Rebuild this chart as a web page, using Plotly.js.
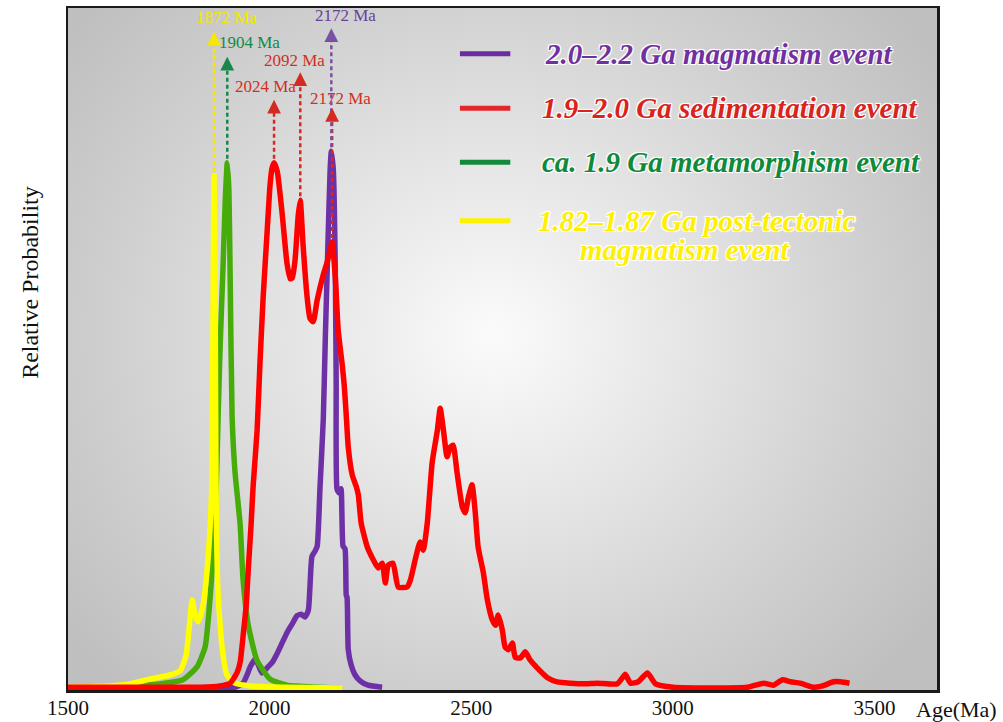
<!DOCTYPE html>
<html><head><meta charset="utf-8">
<script src="https://cdn.plot.ly/plotly-3.0.1.min.js"></script>
<style>
html,body{margin:0;padding:0;background:#fff;}
#wrap{position:relative;width:1003px;height:722px;overflow:hidden;}
#bg{position:absolute;left:68px;top:8px;width:869px;height:682px;
background:radial-gradient(ellipse 62% 72% at 49% 48%, #fbfbfb 0%, #e6e6e6 35%, #d0d0d0 70%, #bfbfbf 100%);}
#chart{position:absolute;left:0;top:0;width:1003px;height:722px;}
</style></head><body>
<div id="wrap"><div id="bg"></div><div id="chart"></div></div>
<script>
// ---------- data (age in Ma, relative probability) ----------
const seriesNames = ['2.0–2.2 Ga magmatism event','1.9–2.0 Ga sedimentation event','ca. 1.9 Ga metamorphism event','1.82–1.87 Ga post-tectonic magmatism event'];

const purpleAge = [1828,1877,1914,1934,1944,1952,1964,1971,1981,1996,2006,2019,2031,2043,2056,2068,2078,2088,2096,2100,2105,2113,2118,2125,2133,2138,2145,2150,2153,2158,2163,2165,2167,2172,2177,2182,2187,2190,2192,2195,2202,2212,2225,2244,2279];
const purpleProb = [0.003,0.003,0.004,0.010,0.022,0.034,0.045,0.038,0.025,0.034,0.040,0.054,0.069,0.084,0.097,0.109,0.111,0.107,0.117,0.151,0.196,0.204,0.211,0.298,0.396,0.513,0.663,0.762,0.790,0.762,0.610,0.455,0.295,0.289,0.295,0.211,0.207,0.139,0.136,0.059,0.037,0.022,0.013,0.007,0.004];

const redAge = [1500,1703,1828,1877,1902,1919,1927,1934,1942,1947,1954,1959,1969,1976,1984,1994,2001,2006,2011,2019,2031,2043,2051,2056,2063,2071,2076,2083,2093,2100,2108,2118,2133,2143,2150,2155,2163,2170,2180,2185,2190,2195,2205,2215,2220,2227,2242,2257,2269,2279,2287,2294,2306,2319,2341,2349,2361,2373,2381,2391,2403,2416,2423,2431,2440,2448,2455,2465,2478,2485,2493,2502,2510,2517,2530,2540,2552,2560,2567,2577,2584,2592,2602,2609,2622,2634,2646,2664,2689,2713,2746,2778,2813,2862,2875,2882,2895,2914,2937,2957,3001,3068,3185,3225,3249,3272,3292,3316,3349,3371,3398,3416,3438];
const redProb = [0.004,0.004,0.004,0.006,0.010,0.025,0.041,0.078,0.125,0.176,0.242,0.298,0.381,0.479,0.576,0.674,0.740,0.765,0.773,0.760,0.699,0.626,0.603,0.604,0.630,0.696,0.718,0.652,0.576,0.545,0.540,0.572,0.609,0.628,0.645,0.657,0.604,0.528,0.477,0.447,0.403,0.356,0.315,0.298,0.286,0.245,0.210,0.191,0.179,0.186,0.157,0.183,0.186,0.151,0.151,0.161,0.191,0.217,0.205,0.245,0.333,0.381,0.413,0.381,0.342,0.356,0.359,0.318,0.268,0.260,0.283,0.301,0.260,0.210,0.172,0.132,0.103,0.095,0.110,0.088,0.063,0.059,0.069,0.048,0.047,0.056,0.044,0.032,0.018,0.012,0.010,0.009,0.010,0.009,0.018,0.023,0.010,0.012,0.025,0.009,0.004,0.003,0.004,0.010,0.007,0.015,0.012,0.010,0.004,0.006,0.012,0.012,0.010];

const greenAge = [1500,1646,1728,1785,1820,1840,1852,1865,1872,1877,1885,1890,1895,1899,1902,1907,1914,1927,1934,1947,1969,2001,2043,2118,2175];
const greenProb = [0.003,0.006,0.009,0.015,0.034,0.063,0.132,0.249,0.396,0.499,0.630,0.718,0.773,0.733,0.610,0.400,0.321,0.242,0.163,0.095,0.043,0.016,0.007,0.004,0.003];

const yellowAge = [1500,1604,1654,1703,1753,1778,1793,1800,1808,1815,1823,1835,1845,1852,1857,1860,1862,1865,1867,1872,1882,1894,1914,1952,2033,2180];
const yellowProb = [0.004,0.006,0.009,0.016,0.022,0.028,0.051,0.088,0.132,0.110,0.100,0.125,0.176,0.235,0.308,0.572,0.754,0.572,0.298,0.142,0.063,0.022,0.010,0.006,0.004,0.003];

const xTickVals = [1500,2000,2500,3000,3500];
const xTickText = ['1500','2000','2500','3000','3500'];

// labelled peaks
const peakLabels = ['1872 Ma','1904 Ma','2024 Ma','2092 Ma','2172 Ma','2172 Ma'];
const peakSeries = ['yellow','green','red','red','red','purple'];
const peakNearAge = [1862,1895,2011,2076,2155,2153];

// ---------- styles ----------
const SERIF = '"Liberation Serif","Times New Roman",serif';
const curveColor = {purple:'#6E30A6', red:'#FF0000', green:'#46AC0A', yellow:'#FFFF00'};
const legendLine = {purple:'#6A2C9E', red:'#E3262A', green:'#14893C', yellow:'#FFF200'};
const legendText = {purple:'#7030A0', red:'#D8241C', green:'#0E8A3A', yellow:'#FFF000'};
const arrowColor = {purple:'#7A4FA6', red:'#D42A22', green:'#17874A', yellow:'#F6E800'};
const labelColor = {purple:'#6B3E9A', red:'#D0301F', green:'#138A45', yellow:'#F2E600'};
const arrowLenPx = [144,106,63,128,134,123];
const labelDx = [13,22,-9,-6,8,14];
const labelDy = [14,14,13,12,9,13];

const plotH = 682, yRange = [0,1];
const data = {
  purple:{x:purpleAge,y:purpleProb,name:seriesNames[0]},
  red:{x:redAge,y:redProb,name:seriesNames[1]},
  green:{x:greenAge,y:greenProb,name:seriesNames[2]},
  yellow:{x:yellowAge,y:yellowProb,name:seriesNames[3]}
};
const order = ['purple','green','yellow','red'];
const traces = order.map(k => ({
  type:'scatter', mode:'lines', x:data[k].x, y:data[k].y, name:data[k].name,
  line:{color:curveColor[k], width:5.5, shape:'spline', smoothing:0.5},
  showlegend:false, hoverinfo:'x+y'
}));

const shapes = [], annotations = [];
const yPerPx = (yRange[1]-yRange[0])/plotH;
peakLabels.forEach((lab,i) => {
  const s = data[peakSeries[i]];
  let best = -1, bi = 0;
  s.x.forEach((a,j) => { if (Math.abs(a-peakNearAge[i]) <= 8 && s.y[j] > best) { best = s.y[j]; bi = j; } });
  const age = s.x[bi], pv = s.y[bi];
  const tip = pv + arrowLenPx[i]*yPerPx;
  const col = arrowColor[peakSeries[i]];
  shapes.push({type:'line', xref:'x', yref:'y', x0:age, x1:age, y0:pv + 4*yPerPx, y1:tip - 8*yPerPx,
    line:{color:col, width:2.5, dash:'4px,3px'}});
  annotations.push({x:age, y:tip, xref:'x', yref:'y', text:'', showarrow:true, arrowhead:2, arrowsize:1.1,
    arrowwidth:2.5, arrowcolor:col, ax:0, ay:12});
  annotations.push({x:age, y:tip, xref:'x', yref:'y', text:lab, showarrow:false, xshift:labelDx[i], yshift:labelDy[i],
    font:{family:SERIF, size:17, color:labelColor[peakSeries[i]]}, xanchor:'center', yanchor:'middle'});
});

// legend (drawn)
const legKeys = ['purple','red','green','yellow'];
const legY = [0.933,0.853,0.774,0.688];
const legTxtX = [0.547,0.543,0.543,0.539];
const legText = ['2.0–2.2 Ga magmatism event','1.9–2.0 Ga sedimentation event','ca. 1.9 Ga metamorphism event','1.82–1.87 Ga post-tectonic'];
const glow = '1px 1px 0 #fff, -1px -1px 0 #fff, 1px -1px 0 #fff, -1px 1px 0 #fff, 0 0 3px #fff';
legKeys.forEach((k,i) => {
  shapes.push({type:'line', xref:'paper', yref:'paper', x0:0.451, x1:0.509, y0:legY[i], y1:legY[i],
    line:{color:legendLine[k], width:5}});
  annotations.push({xref:'paper', yref:'paper', x:legTxtX[i], y:legY[i], xanchor:'left', yanchor:'middle',
    showarrow:false, text:'<b><i>'+legText[i]+'</i></b>',
    font:{family:SERIF, size:29, color:legendText[k], shadow:glow}});
});
annotations.push({xref:'paper', yref:'paper', x:0.587, y:0.645, xanchor:'left', yanchor:'middle',
  showarrow:false, text:'<b><i>magmatism event</i></b>',
  font:{family:SERIF, size:29, color:legendText.yellow, shadow:glow}});

// axis titles
annotations.push({xref:'paper', yref:'paper', x:-0.0437, y:0.597, textangle:-90, showarrow:false,
  text:'Relative Probability', font:{family:SERIF, size:24, color:'#111'}, xanchor:'center', yanchor:'middle'});
annotations.push({xref:'paper', yref:'paper', x:0.974, y:-0.028, showarrow:false, xanchor:'left', yanchor:'middle',
  text:'Age(Ma)', font:{family:SERIF, size:22, color:'#111'}});

const layout = {
  width:1003, height:722,
  margin:{l:68, r:66, t:8, b:32, pad:0},
  paper_bgcolor:'rgba(0,0,0,0)', plot_bgcolor:'rgba(0,0,0,0)',
  xaxis:{range:[1500,3655], tickvals:xTickVals, ticktext:xTickText, ticks:'', showgrid:false, zeroline:false,
    showline:true, mirror:true, linecolor:'#1a1a1a', linewidth:2.5, automargin:false, ticklabelstandoff:-3,
    tickfont:{family:SERIF, size:21, color:'#111'}},
  yaxis:{range:yRange, showticklabels:false, ticks:'', showgrid:false, zeroline:false,
    showline:true, mirror:true, linecolor:'#1a1a1a', linewidth:2.5, automargin:false},
  shapes:shapes, annotations:annotations, showlegend:false
};
Plotly.newPlot('chart', traces, layout, {displayModeBar:false, staticPlot:true});
</script>
</body></html>
